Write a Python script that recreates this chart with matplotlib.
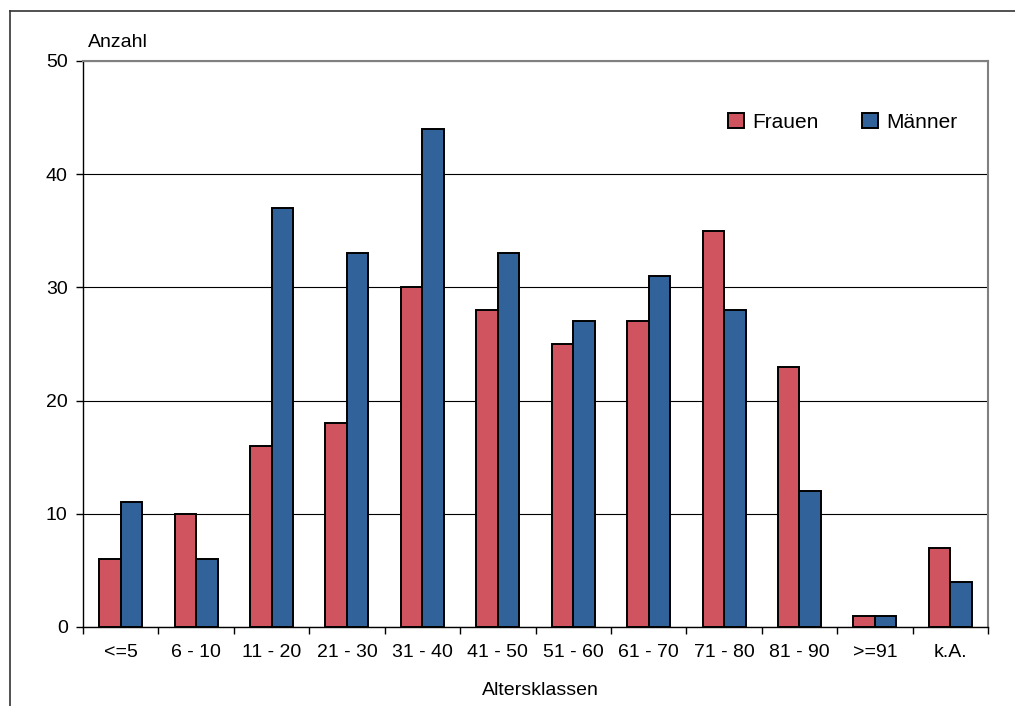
import numpy as np
import matplotlib
matplotlib.use("Agg")
import matplotlib.pyplot as plt
from matplotlib.lines import Line2D

plt.rcParams['font.family'] = ['Liberation Sans', 'DejaVu Sans']

# Daten
klassen = ["<=5", "6 - 10", "11 - 20", "21 - 30", "31 - 40", "41 - 50",
           "51 - 60", "61 - 70", "71 - 80", "81 - 90", ">=91", "k.A."]
frauen = [6, 10, 16, 18, 30, 28, 25, 27, 35, 23, 1, 7]
maenner = [11, 6, 37, 33, 44, 33, 27, 31, 28, 12, 1, 4]

fig = plt.figure(figsize=(10.15, 7.06), dpi=100)
ax = fig.add_axes([0.0818, 0.1119, 0.8916, 0.8017])

x = np.arange(len(klassen))
w = 0.285
ax.bar(x - w / 2, frauen, w, color="#D0545F", edgecolor="black", linewidth=1.4,
       label="Frauen", zorder=3)
ax.bar(x + w / 2, maenner, w, color="#31639A", edgecolor="black", linewidth=1.4,
       label="Männer", zorder=3)

ax.set_xlim(-0.5, len(klassen) - 0.5)
ax.set_ylim(0, 50)
ax.set_yticks([0, 10, 20, 30, 40, 50])
ax.yaxis.grid(True, color="black", linewidth=0.8, zorder=0)

# Ticks zwischen den Kategorien, Beschriftung mittig
ax.set_xticks(np.arange(-0.5, len(klassen), 1.0))
ax.set_xticklabels([])
ax.set_xticks(x, minor=True)
ax.set_xticklabels(klassen, minor=True, fontsize=14)
ax.tick_params(axis="x", which="major", direction="out", length=5, width=1)
ax.tick_params(axis="x", which="minor", length=0, pad=12)
ax.tick_params(axis="y", direction="out", length=5, width=1, labelsize=14, pad=6)

for s in ["left", "bottom"]:
    ax.spines[s].set_color("black")
    ax.spines[s].set_linewidth(1.0)
for s in ["top", "right"]:
    ax.spines[s].set_color("#808080")
    ax.spines[s].set_linewidth(1.5)

fig.text(0.087, 0.94, "Anzahl", fontsize=14, ha="left", va="center")
fig.text(0.532, 0.022, "Altersklassen", fontsize=14, ha="center", va="center")

ax.legend(loc="center right", bbox_to_anchor=(0.982, 0.892), ncol=2, frameon=False,
          fontsize=15, handlelength=0.75, handleheight=0.75, handletextpad=0.4,
          columnspacing=2.1, borderpad=0.2)

# äußerer Rahmen
fig.add_artist(Line2D([0.0099, 1.0], [0.985, 0.985], color="#333333", linewidth=1.2))
fig.add_artist(Line2D([0.0099, 0.0099], [0.0, 0.985], color="#333333", linewidth=1.2))

fig.savefig("out.png", dpi=100)
